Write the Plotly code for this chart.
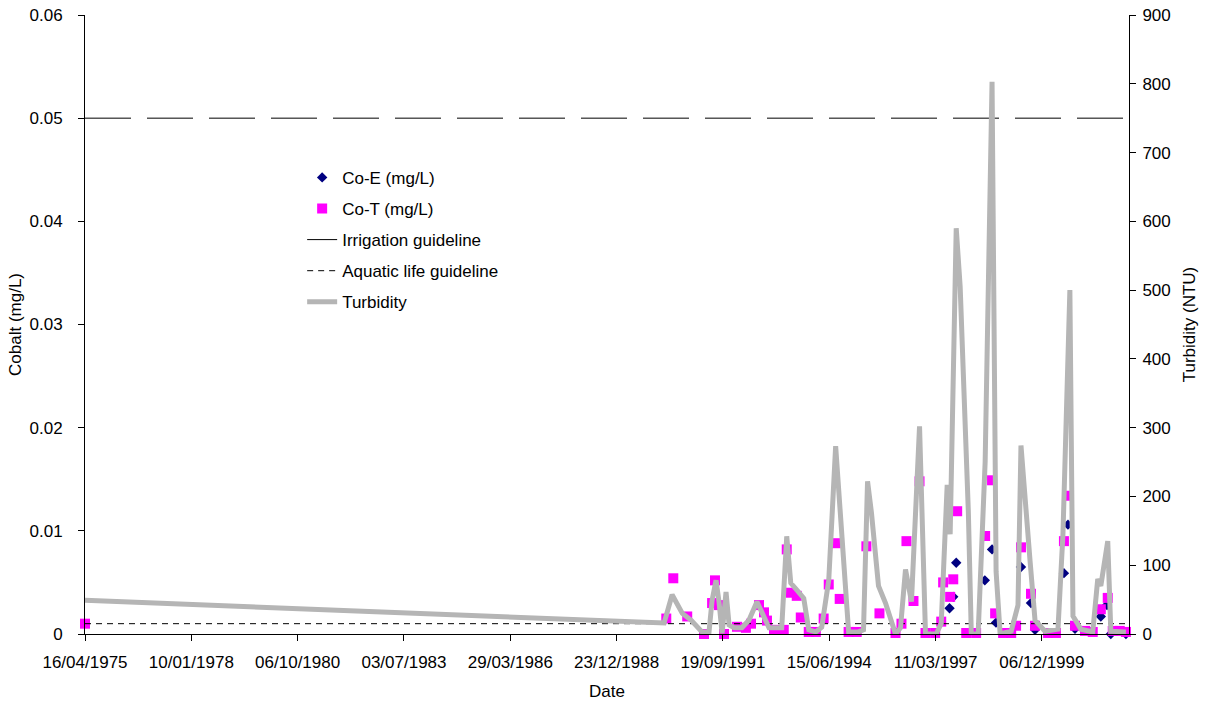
import plotly.graph_objects as go
import pandas as pd

# ---------------- data ----------------
turb_dates = [
    "1975-04-16", "1990-03-15", "1990-05-29", "1990-09-02", "1990-11-25",
    "1991-03-06", "1991-05-11", "1991-06-09", "1991-07-16", "1991-08-13",
    "1991-09-11", "1991-10-18", "1991-11-16", "1992-01-02", "1992-03-15",
    "1992-05-20", "1992-08-04", "1992-10-09", "1992-11-25", "1993-02-08",
    "1993-03-25", "1993-05-11", "1993-06-18", "1993-08-13", "1993-10-18",
    "1993-12-04", "1994-02-09", "1994-04-05", "1994-06-10", "1994-08-14",
    "1994-10-10", "1994-12-14", "1995-03-16", "1995-05-03", "1995-06-10",
    "1995-07-17", "1995-09-21", "1995-11-26", "1996-02-28", "1996-04-15",
    "1996-06-01", "1996-07-27", "1996-10-11", "1996-12-06", "1997-03-16",
    "1997-05-03", "1997-06-28", "1997-07-26", "1997-09-21", "1997-10-28",
    "1998-01-13", "1998-02-10", "1998-04-15", "1998-06-20", "1998-08-24",
    "1998-10-01", "1998-11-08", "1999-02-20", "1999-04-25", "1999-05-23",
    "1999-08-16", "1999-10-02", "2000-01-04", "2000-05-05", "2000-06-21",
    "2000-08-25", "2000-09-23", "2000-12-07", "2001-03-28", "2001-05-14",
    "2001-06-12", "2001-08-16", "2001-09-14", "2002-02-03",
]
turb_ntu = [
    49, 16, 57, 30, 20,
    3, 3, 49, 78, 47,
    1, 61, 13, 9, 9,
    20, 47, 23, 9, 9,
    9, 142, 74, 64, 52,
    6, 3, 10, 78, 273,
    141, 3, 3, 6, 222,
    176, 70, 45, 0, 9,
    94, 47, 302, 0, 0,
    15, 217, 145, 590, 505,
    178, 0, 0, 250, 803,
    91, 0, 4, 42, 274,
    107, 20, 4, 7, 146,
    500, 26, 7, 3, 80,
    70, 135, 4, 3,
]

cot_dates = [
    "1975-04-16", "1990-04-04", "1990-06-09", "1990-10-18", "1991-03-25",
    "1991-06-09", "1991-07-06", "1991-08-13", "1991-09-29", "1992-01-29",
    "1992-04-22", "1992-06-09", "1992-08-23", "1992-10-09", "1992-11-06",
    "1993-01-11", "1993-04-13", "1993-05-11", "1993-06-18", "1993-08-13",
    "1993-09-20", "1993-12-04", "1994-02-09", "1994-04-23", "1994-06-10",
    "1994-08-14", "1994-09-21", "1994-12-14", "1995-02-28", "1995-05-30",
    "1995-09-30", "1996-02-28", "1996-04-24", "1996-06-10", "1996-08-15",
    "1996-10-11", "1996-12-06", "1997-03-07", "1997-05-03", "1997-05-21",
    "1997-07-26", "1997-08-24", "1997-09-30", "1997-12-24", "1998-03-27",
    "1998-06-20", "1998-08-24", "1998-09-22", "1998-12-06", "1999-02-20",
    "1999-04-07", "1999-05-23", "1999-08-25", "1999-10-02", "2000-02-02",
    "2000-04-16", "2000-06-30", "2000-08-07", "2000-10-12", "2001-01-14",
    "2001-03-28", "2001-06-12", "2001-08-16", "2001-10-02", "2001-12-07",
    "2002-02-03",
]
cot_mgl = [
    0.0010, 0.0015, 0.0054, 0.0017, 0.0000,
    0.0030, 0.0052, 0.0028, 0.0000, 0.0007,
    0.0006, 0.0010, 0.0028, 0.0021, 0.0013,
    0.0004, 0.0004, 0.0082, 0.0040, 0.0037,
    0.0016, 0.0002, 0.0002, 0.0015, 0.0048,
    0.0088, 0.0034, 0.0002, 0.0002, 0.0085,
    0.0020, 0.0001, 0.0010, 0.0090, 0.0032,
    0.0148, 0.0001, 0.0001, 0.0012, 0.0050,
    0.0036, 0.0053, 0.0119, 0.0001, 0.0001,
    0.0095, 0.0149, 0.0020, 0.0001, 0.0001,
    0.0008, 0.0084, 0.0039, 0.0008, 0.0001,
    0.0001, 0.0090, 0.0134, 0.0008, 0.0003,
    0.0002, 0.0024, 0.0035, 0.0003, 0.0003,
    0.0002,
]

coe_dates = [
    "1997-07-20", "1997-08-24", "1997-09-21", "1998-06-17", "1998-08-24",
    "1998-09-30", "1999-05-23", "1999-08-25", "1999-10-02", "2000-06-30",
    "2000-08-07", "2000-10-12", "2001-06-12", "2001-08-09", "2001-09-14",
    "2002-02-03",
]
coe_mgl = [
    0.0025, 0.0036, 0.0069, 0.0052, 0.0082,
    0.0011, 0.0065, 0.0030, 0.0004, 0.0059,
    0.0106, 0.0005, 0.0017, 0.0028, 0.0000,
    0.0000,
]

guide_dates = ["1975-04-16", "2002-03-04"]
irrigation_mgl = [0.05, 0.05]
aquatic_mgl = [0.001, 0.001]

x_tick_labels = [
    "16/04/1975", "10/01/1978", "06/10/1980", "03/07/1983", "29/03/1986",
    "23/12/1988", "19/09/1991", "15/06/1994", "11/03/1997", "06/12/1999",
]
x_tick_vals = [pd.to_datetime(s, dayfirst=True).strftime("%Y-%m-%d") for s in x_tick_labels]

FONT = "Arial, Liberation Sans, sans-serif"
FS = 17

fig = go.Figure()

fig.add_trace(go.Scatter(
    x=coe_dates, y=coe_mgl, mode="markers", name="Co-E (mg/L)",
    marker=dict(symbol="diamond", size=8, color="#000080"),
    cliponaxis=False, legendgroup="a",
))
fig.add_trace(go.Scatter(
    x=cot_dates, y=cot_mgl, mode="markers", name="Co-T (mg/L)",
    marker=dict(symbol="square", size=10, color="#FF00FF"),
    cliponaxis=False, legendgroup="b",
))
fig.add_trace(go.Scatter(
    x=guide_dates, y=irrigation_mgl, mode="lines", name="Irrigation guideline",
    line=dict(color="black", width=1, dash="46px,16px"), legendgroup="c",
))
fig.add_trace(go.Scatter(
    x=guide_dates, y=aquatic_mgl, mode="lines", name="Aquatic life guideline",
    line=dict(color="black", width=1, dash="6px,5px"), legendgroup="d",
))
fig.add_trace(go.Scatter(
    x=turb_dates, y=turb_ntu, mode="lines", name="Turbidity", yaxis="y2",
    line=dict(color="#b5b5b5", width=5), legendgroup="e",
))

fig.update_layout(
    width=1212, height=704,
    margin=dict(l=85, r=83, t=15, b=70, autoexpand=False),
    paper_bgcolor="white", plot_bgcolor="white",
    font=dict(family=FONT, size=FS, color="black"),
    showlegend=True,
    legend=dict(
        x=0.208, y=0.766, xanchor="left", yanchor="top",
        bgcolor="rgba(0,0,0,0)", font=dict(size=FS, family=FONT),
        traceorder="grouped", tracegroupgap=6,
    ),
    xaxis=dict(
        type="date", range=["1975-04-16", "2002-03-04"], automargin=False,
        tickvals=x_tick_vals, ticktext=x_tick_labels,
        ticks="outside", ticklen=6, tickcolor="black",
        showline=True, linecolor="black", linewidth=1,
        showgrid=False, zeroline=False,
        tickfont=dict(size=FS), ticklabelstandoff=7,
        ticklabeloverflow="allow",
        title=dict(text="Date", font=dict(size=FS), standoff=13),
    ),
    yaxis=dict(
        range=[0, 0.06], dtick=0.01, tick0=0, automargin=False,
        ticks="outside", ticklen=6, tickcolor="black",
        showline=True, linecolor="black", linewidth=1,
        showgrid=False, zeroline=False,
        tickfont=dict(size=FS), ticklabelstandoff=12,
        ticklabeloverflow="allow",
        title=dict(text="Cobalt (mg/L)", font=dict(size=FS), standoff=3),
    ),
    yaxis2=dict(
        range=[0, 900], dtick=100, tick0=0, automargin=False,
        overlaying="y", side="right",
        ticks="outside", ticklen=6, tickcolor="black",
        showline=True, linecolor="black", linewidth=1,
        showgrid=False, zeroline=False,
        tickfont=dict(size=FS), ticklabelstandoff=3,
        ticklabeloverflow="allow",
        title=dict(text="Turbidity (NTU)", font=dict(size=FS), standoff=13),
    ),
)

# remove the default 8px page margin so the figure sits at the window origin
fig.write_html(
    "out.html",
    config={"displayModeBar": False},
    post_script="document.body.style.margin='0px';",
)
